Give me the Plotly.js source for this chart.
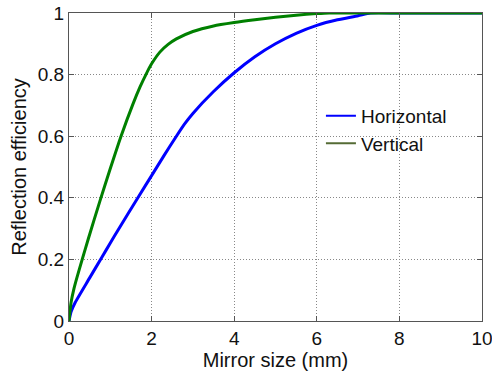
<!DOCTYPE html>
<html>
<head>
<meta charset="utf-8">
<script src="https://cdn.plot.ly/plotly-3.0.1.min.js"></script>
<style>html,body{margin:0;padding:0;background:#fff;}#chart{width:492px;height:372px;}</style>
</head>
<body>
<div id="chart"></div>
<script>
// Horizontal (blue)
const horizX = [0, 0.05, 0.15, 0.5, 0.8, 1.0, 1.2, 1.69, 2.0, 2.3, 2.6, 2.8, 3.0, 3.5, 4.0, 4.5, 5.0, 5.5, 6.0, 6.5, 7.0, 7.3, 8, 9, 10];
const horizY = [0, 0.03, 0.06, 0.14, 0.208, 0.253, 0.298, 0.405, 0.472, 0.537, 0.6, 0.64, 0.674, 0.745, 0.806, 0.858, 0.9, 0.934, 0.96, 0.978, 0.991, 1, 1, 1, 1];
// Vertical (green)
const vertX = [0, 0.05, 0.12, 0.19, 0.32, 0.47, 0.75, 1.0, 1.26, 1.55, 1.72, 1.88, 2.0, 2.2, 2.4, 2.6, 3.0, 3.5, 4.0, 4.5, 5.0, 5.5, 6.0, 6.3, 7, 8, 9, 10];
const vertY = [0, 0.06, 0.105, 0.14, 0.2, 0.268, 0.39, 0.495, 0.6, 0.705, 0.76, 0.805, 0.835, 0.873, 0.898, 0.916, 0.94, 0.958, 0.969, 0.978, 0.986, 0.993, 0.998, 1, 1, 1, 1, 1];
const seriesNames = ["Horizontal", "Vertical"];
const xTicks = [0, 2, 4, 6, 8, 10];
const yTicks = [0, 0.2, 0.4, 0.6, 0.8, 1];
const yTickText = ["0", "0.2", "0.4", "0.6", "0.8", "1"];

const FONT = "Liberation Sans, Arial, sans-serif";
const traces = [
  {x: horizX, y: horizY, mode: "lines", line: {color: "#0000ff", width: 3, shape: "spline", smoothing: 0.6}, showlegend: false, name: seriesNames[0]},
  {x: vertX, y: vertY, mode: "lines", line: {color: "#008000", width: 3, shape: "spline", smoothing: 0.6}, showlegend: false, name: seriesNames[1]},
  {x: [null], y: [null], mode: "lines", line: {color: "#0000ff", width: 2}, name: seriesNames[0]},
  {x: [null], y: [null], mode: "lines", line: {color: "#556b35", width: 2}, name: seriesNames[1]}
];
const axisCommon = {
  showline: true, mirror: "ticks", linecolor: "#555", linewidth: 1,
  ticks: "inside", ticklen: 5, tickcolor: "#555",
  showgrid: true, gridcolor: "#888", griddash: "1px,2px", gridwidth: 1,
  zeroline: false, ticklabeloverflow: "allow",
  tickfont: {family: FONT, size: 19, color: "#111"}
};
const layout = {
  width: 492, height: 372,
  margin: {l: 69, r: 10, t: 13, b: 51},
  paper_bgcolor: "#fff", plot_bgcolor: "#fff",
  font: {family: FONT, color: "#111"},
  xaxis: Object.assign({}, axisCommon, {
    range: [0, 10], tickvals: xTicks, ticktext: xTicks.map(String),
    title: {text: "Mirror size (mm)", font: {family: FONT, size: 20, color: "#111"}, standoff: 3},
    automargin: false
  }),
  yaxis: Object.assign({}, axisCommon, {
    range: [0, 1], tickvals: yTicks, ticktext: yTickText,
    title: {text: "Reflection efficiency", font: {family: FONT, size: 20, color: "#111"}, standoff: 5},
    automargin: false
  }),
  legend: {
    x: 0.61, y: 0.728, xanchor: "left", yanchor: "top",
    bgcolor: "rgba(255,255,255,0)", borderwidth: 0,
    font: {family: FONT, size: 19, color: "#111"}
  }
};
Plotly.newPlot("chart", traces, layout, {displayModeBar: false, staticPlot: true});
</script>
</body>
</html>
